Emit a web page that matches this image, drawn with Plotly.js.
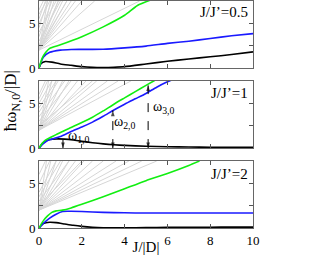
<!DOCTYPE html>
<html><head><meta charset="utf-8">
<script src="https://cdn.plot.ly/plotly-3.0.1.min.js"></script>
<style>html,body{margin:0;padding:0;background:#fff}#c{width:329px;height:255px}</style>
</head><body><div id="c"></div>
<script>
// ---- data ----
const panelLabels = ["J/J’=0.5", "J/J’=1", "J/J’=2"];
const xTicks = [0, 2, 4, 6, 8, 10];
const yTicks = [0, 5];
const yMinorStep = 2.5;

// panel 1 (J/J'=0.5)
const p1BlackX = [0,0.1,0.3,0.6,1,1.5,2,2.5,3,3.5,4,5,6,7,8,9,10];
const p1BlackY = [0,0.5,0.72,0.65,0.45,0.3,0.15,0.07,0.05,0.08,0.15,0.45,0.75,1.0,1.25,1.5,1.8];
const p1BlueX = [0,0.2,0.5,1,1.5,2,3,4,5,6,7,8,9,10];
const p1BlueY = [0,1.2,1.75,2.0,2.07,2.08,2.1,2.25,2.45,2.75,3.0,3.3,3.6,3.85];
const p1GreenX = [0,0.15,0.3,0.5,1,2,3,4,4.6,5.2];
const p1GreenY = [0,1.1,1.7,2.2,2.6,3.5,4.6,5.9,7.0,7.6];
const p1GrayStart = [2,2,2,2,2,2,2,2,2,2,2,2.2,2.5,3,3.5,4,4.5,5,5.5,6,6.5];
const p1GrayEnd   = [4.7,2.6,2.0,1.7,1.5,1.3,1.1,0.9,0.7,0.55,0.4,1.3,0.9,1.0,0.6,0.8,0.4,0.5,0.3,0.35,0.2];

// panel 2 (J/J'=1)
const p2BlackX = [0,0.2,0.5,0.8,1.2,1.6,2,2.5,3,3.5,4,5,6,7,8,9,10];
const p2BlackY = [0,0.6,0.95,1.02,1.0,0.9,0.75,0.6,0.47,0.37,0.3,0.2,0.15,0.12,0.1,0.09,0.08];
const p2BlueX = [0,0.2,0.4,0.6,1,1.5,2,2.5,3,3.5,4,4.5,5,5.5,6,6.2];
const p2BlueY = [0,0.5,0.85,1.0,1.3,1.85,2.35,2.9,3.55,4.25,4.9,5.5,6.1,6.8,7.4,7.6];
const p2GreenX = [0,0.15,0.3,0.5,0.8,1,1.5,2,2.5,3,3.5,4,4.5,5,5.4];
const p2GreenY = [0,0.55,0.9,1.15,1.5,1.75,2.3,2.85,3.45,4.15,4.9,5.6,6.3,7.0,7.55];
const p2GrayStart = [2,2,2,2,2,2,2,2,2,2,2,2.5,3,3.5,4,4.5,5,5.5,6];
const p2GrayEnd   = [4.3,3.7,3.2,2.7,2.2,1.8,1.4,1.1,0.8,0.6,0.45,2.5,1.5,1.2,0.9,0.8,0.6,0.4,0.3];
const arrowX   = [1.12, 3.45, 5.1];
const arrowTop = [0.95, 4.2, 7.0];
const omegaLabels = ["ω<sub>1,0</sub>", "ω<sub>2,0</sub>", "ω<sub>3,0</sub>"];
const omegaLabelX = [1.85, 4.0, 5.85];
const omegaLabelY = [1.35, 2.9, 4.55];

// panel 3 (J/J'=2)
const p3BlackX = [0,0.2,0.5,0.8,1.2,1.6,2,2.5,3,3.5,4,5,6,7,8,9,10];
const p3BlackY = [0,0.5,0.65,0.6,0.45,0.3,0.18,0.08,0.03,0.01,0.02,0.05,0.07,0.08,0.09,0.1,0.1];
const p3BlueX = [0,0.2,0.5,0.8,1.1,1.5,2,3,4,5,6,7,8,9,10];
const p3BlueY = [0,0.5,1.1,1.55,1.85,1.87,1.85,1.75,1.7,1.68,1.68,1.68,1.68,1.68,1.68];
const p3GreenX = [0,0.2,0.4,0.6,0.8,1.1,1.5,2,3,4,5,6,7,7.5];
const p3GreenY = [0,0.8,1.35,1.75,1.92,2.0,2.25,2.65,3.5,4.4,5.3,6.1,7.0,7.5];
const p3GrayStart = [2,2,2,2,2,2,2,2,2,2,2,2,2,2.5,3,3.5,4,5,6];
const p3GrayEnd   = [5.5,4.8,4.2,3.6,3.0,2.5,2.1,1.7,1.4,1.1,0.8,0.55,0.35,2.0,1.4,1.0,0.8,0.5,0.3];
const grayTop = 7.5;

// ---- build ----
const BLACK = "#000000", BLUE = "#1a1aff", GREEN = "#11ee11", GRAY = "#d6d6d6";
function grayTrace(starts, ends, xa, ya) {
  const x = [], y = [];
  starts.forEach((s, i) => { x.push(0, ends[i], null); y.push(s, grayTop, null); });
  return {x, y, xaxis: xa, yaxis: ya, mode: "lines", line: {color: GRAY, width: 1}, hoverinfo: "skip", showlegend: false};
}
function line(x, y, color, xa, ya, w) {
  return {x, y, xaxis: xa, yaxis: ya, mode: "lines", line: {color, width: w || 1.6, shape: "spline", smoothing: 0.6}, showlegend: false};
}
const traces = [
  grayTrace(p1GrayStart, p1GrayEnd, "x", "y"),
  line(p1BlackX, p1BlackY, BLACK, "x", "y", 1.6),
  line(p1BlueX, p1BlueY, BLUE, "x", "y"),
  line(p1GreenX, p1GreenY, GREEN, "x", "y"),
  grayTrace(p2GrayStart, p2GrayEnd, "x2", "y2"),
  line(p2BlackX, p2BlackY, BLACK, "x2", "y2", 1.6),
  line(p2BlueX, p2BlueY, BLUE, "x2", "y2"),
  line(p2GreenX, p2GreenY, GREEN, "x2", "y2"),
  grayTrace(p3GrayStart, p3GrayEnd, "x3", "y3"),
  line(p3BlackX, p3BlackY, BLACK, "x3", "y3", 1.6),
  line(p3BlueX, p3BlueY, BLUE, "x3", "y3"),
  line(p3GreenX, p3GreenY, GREEN, "x3", "y3"),
];
// vertical arrows in panel 2 (arrow markers: tip sits on the data point)
arrowX.forEach((ax, i) => {
  traces.push({x: [ax, ax], y: [0, arrowTop[i]], xaxis: "x2", yaxis: "y2", mode: "lines+markers",
    line: {color: "#000", width: 1, dash: i === 0 ? "solid" : "dash"},
    marker: {symbol: "arrow", angle: [180, 0], size: [6, i === 0 ? 0 : 6], color: "#000", line: {width: 0}},
    cliponaxis: false, showlegend: false, hoverinfo: "skip"});
});

const serif = "'Liberation Serif', 'Times New Roman', serif";
const annotations = [];
const axNames = [["x", "y"], ["x2", "y2"], ["x3", "y3"]];
const labelY = [6.3, 6.2, 6.1];
panelLabels.forEach((t, i) => {
  annotations.push({text: t, xref: axNames[i][0], yref: axNames[i][1], x: 9.85, y: labelY[i],
    xanchor: "right", yanchor: "middle", showarrow: false, font: {family: serif, size: 15, color: "#000"}});
});
omegaLabels.forEach((t, i) => {
  annotations.push({text: t, xref: "x2", yref: "y2", x: omegaLabelX[i], y: omegaLabelY[i],
    xanchor: "center", yanchor: "middle", showarrow: false, font: {family: serif, size: 14, color: "#000"}});
});
annotations.push({text: "ħω<sub>N,0</sub>/|D|", xref: "paper", yref: "paper", x: -0.125, y: 0.56,
  textangle: -90, xanchor: "center", yanchor: "middle", showarrow: false, font: {family: serif, size: 17, color: "#000"}});

function xaxis(showLabels, anchor) {
  return {range: [0, 10], tickvals: xTicks, showticklabels: showLabels,
    ticks: "inside", ticklen: 4, tickcolor: "#555", mirror: "ticks", showline: true, linecolor: "#666", linewidth: 1,
    showgrid: false, zeroline: false, anchor, tickfont: {family: serif, size: 13, color: "#000"}};
}
function yaxis(domain, anchor) {
  return {range: [0, 7.5], domain, tickvals: yTicks, ticks: "inside", ticklen: 4, tickcolor: "#555",
    minor: {dtick: yMinorStep, tick0: 0, ticks: "inside", ticklen: 4, tickcolor: "#555", showgrid: false},
    mirror: "ticks", showline: true, linecolor: "#666", linewidth: 1, showgrid: false, zeroline: false, anchor,
    tickfont: {family: serif, size: 13, color: "#000"}};
}
const xa3 = xaxis(true, "y3");
xa3.title = {text: "J/|D|", font: {family: serif, size: 15, color: "#000"}, standoff: 2};
const layout = {
  width: 329, height: 255, margin: {l: 39, r: 76, t: 1, b: 27},
  paper_bgcolor: "#fff", plot_bgcolor: "#fff", showlegend: false,
  font: {family: serif},
  xaxis: xaxis(false, "y"), yaxis: yaxis([0.705, 1], "x"),
  xaxis2: xaxis(false, "y2"), yaxis2: yaxis([0.352, 0.648], "x2"),
  xaxis3: xa3, yaxis3: yaxis([0, 0.295], "x3"),
  annotations
};
Plotly.newPlot("c", traces, layout, {displayModeBar: false, staticPlot: true});
</script></body></html>
